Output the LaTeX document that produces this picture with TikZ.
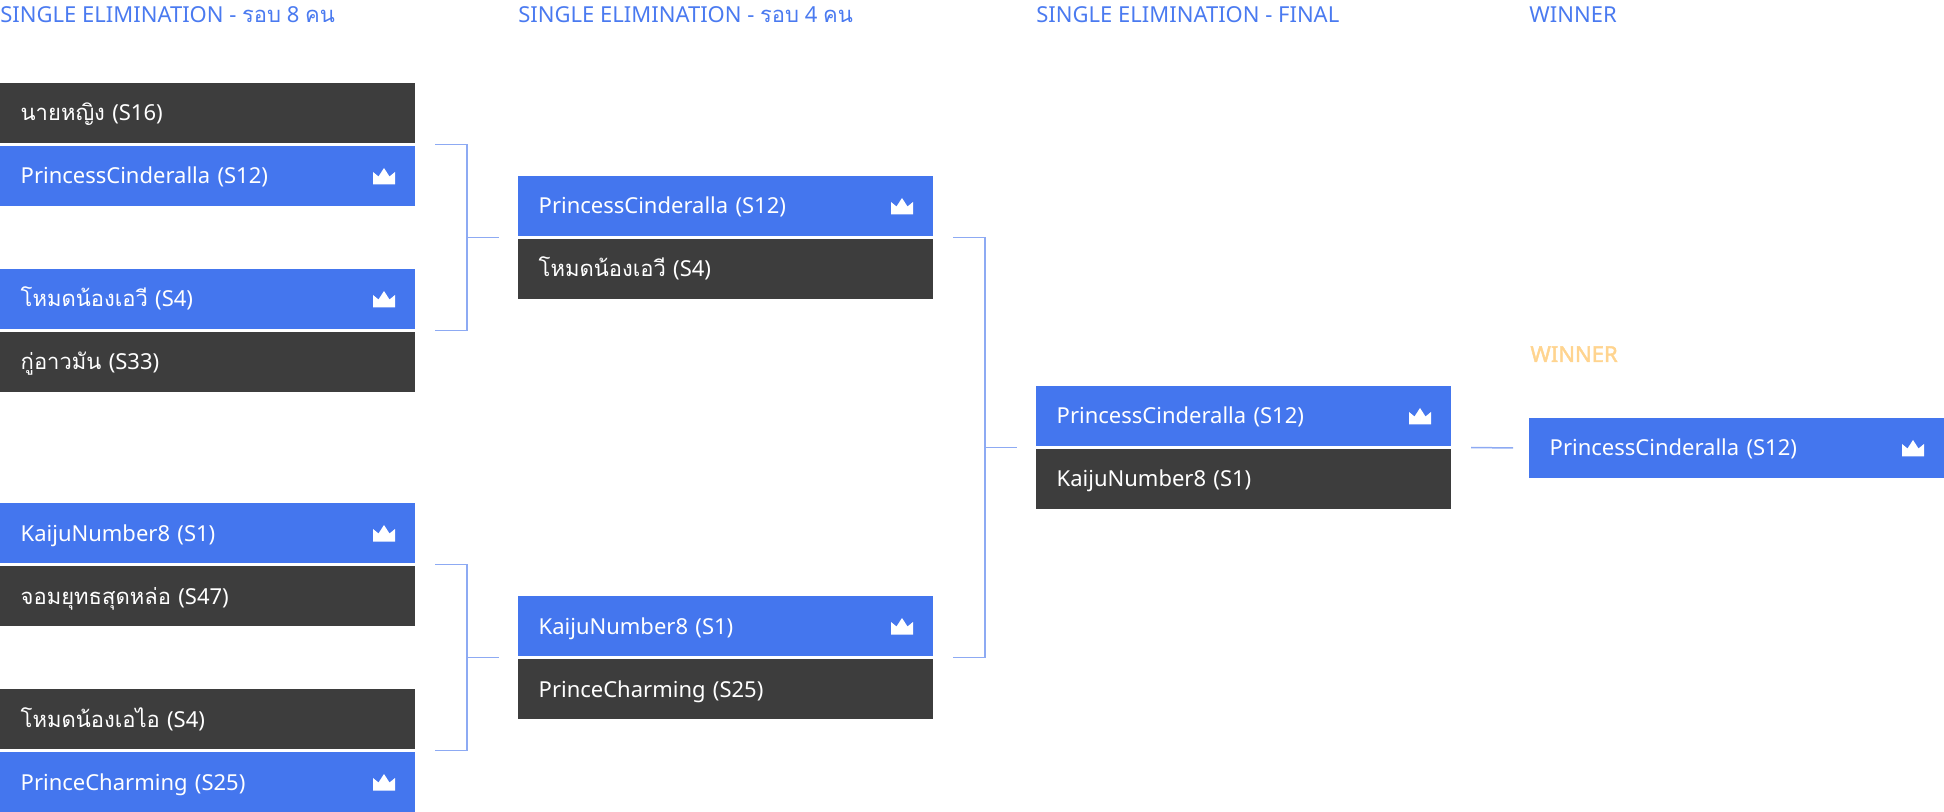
\documentclass[tikz,border=0pt]{standalone}
\usepackage{fontspec}
\setmainfont{Noto Sans}
\newfontfamily\thai[Script=Thai]{Loma}
\newfontfamily\winfont[FakeBold=2]{Noto Sans}
\usetikzlibrary{calc}

\definecolor{boxblue}{HTML}{4476EE}
\definecolor{boxdark}{HTML}{3D3D3D}
\definecolor{headblue}{HTML}{4A7AF0}
\definecolor{linkblue}{HTML}{8DAAF3}
\definecolor{winorange}{HTML}{FFD48F}

\tikzset{
	player/.style={rectangle, anchor=north west, outer sep=0pt, minimum width=207.5pt, minimum height=30pt,
		inner xsep=10.35pt, inner ysep=0pt, text width=186.8pt, align=left,
		text height=8pt, text depth=0pt, text=white, font=\fontsize{11}{13}\selectfont},
	win/.style={player, fill=boxblue},
	lose/.style={player, fill=boxdark},
	head/.style={anchor=base west, inner sep=0pt, text=headblue, font=\fontsize{11}{13}\selectfont},
	link/.style={draw=linkblue, line width=0.75pt},
	crown/.pic={\fill[white] (-11,8.5) -- (-11,-4) -- (-5.5,0.5) -- (0,-8) -- (5.5,0.5) -- (11,-4) -- (11,8.5) -- cycle;}
}

\begin{document}
\begin{tikzpicture}[x=0.5pt, y=-0.5pt]
		\useasboundingbox (0,0) rectangle (1944,812);
		% headers
		\node[head] (h1) at (0,23) {SINGLE ELIMINATION - {\thai รอบ} 8 {\thai คน}};
		\node[head] (h2) at (518,23) {SINGLE ELIMINATION - {\thai รอบ} 4 {\thai คน}};
		\node[head] (h3) at (1036,23) {SINGLE ELIMINATION - FINAL};
		\node[head] (h4) at (1529,23) {WINNER};
		% round of 8
		\node[lose] (r1a) at (0,83) {{\thai นายหญิง} (S16)};
		\node[win] (r1b) at (0,146) {PrincessCinderalla (S12)};
		\node[win] (r1c) at (0,269) {{\thai โหมดน้องเอวี} (S4)};
		\node[lose] (r1d) at (0,332) {{\thai กู่อาวมัน} (S33)};
		\node[win] (r1e) at (0,503) {KaijuNumber8 (S1)};
		\node[lose] (r1f) at (0,566) {{\thai จอมยุทธสุดหล่อ} (S47)};
		\node[lose] (r1g) at (0,689) {{\thai โหมดน้องเอไอ} (S4)};
		\node[win] (r1h) at (0,752) {PrinceCharming (S25)};
		% round of 4
		\node[win] (r2a) at (518,176) {PrincessCinderalla (S12)};
		\node[lose] (r2b) at (518,239) {{\thai โหมดน้องเอวี} (S4)};
		\node[win] (r2c) at (518,596) {KaijuNumber8 (S1)};
		\node[lose] (r2d) at (518,659) {PrinceCharming (S25)};
		% final
		\node[win] (fa) at (1036,386) {PrincessCinderalla (S12)};
		\node[lose] (fb) at (1036,449) {KaijuNumber8 (S1)};
		% winner
		\node[head, text=winorange, font=\fontsize{11}{13}\winfont] (wl) at (1530,362) {WINNER};
		\node[win] (w) at (1529,418) {PrincessCinderalla (S12)};
		\foreach \n in {r1b, r1c, r1e, r1h, r2a, r2c, fa, w}
			\pic at ([xshift=-15.5pt]\n.east) {crown};
		% brackets
		\draw[link] ($(r1a.south east)!.5!(r1b.north east)+(20,0)$) -- ++(32,0) |- ($(r1c.south east)!.5!(r1d.north east)+(20,0)$);
		\draw[link] ($(r2a.south west)!.5!(r2b.north west)+(-51,0)$) -- ++(32,0);
		\draw[link] ($(r1e.south east)!.5!(r1f.north east)+(20,0)$) -- ++(32,0) |- ($(r1g.south east)!.5!(r1h.north east)+(20,0)$);
		\draw[link] ($(r2c.south west)!.5!(r2d.north west)+(-51,0)$) -- ++(32,0);
		\draw[link] ($(r2a.south east)!.5!(r2b.north east)+(20,0)$) -- ++(32,0) |- ($(r2c.south east)!.5!(r2d.north east)+(20,0)$);
		\draw[link] ($(fa.south west)!.5!(fb.north west)+(-51,0)$) -- ++(32,0);
		\draw[link] ($(fa.south east)!.5!(fb.north east)+(20,0)$) -- ([xshift=-8pt]w.west);
\end{tikzpicture}
\end{document}
